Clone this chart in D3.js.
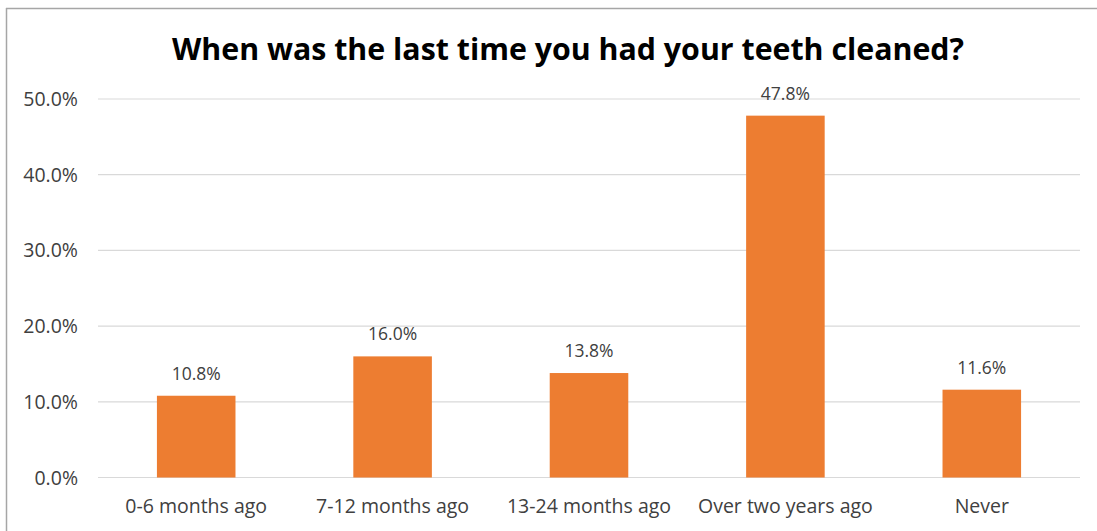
<!DOCTYPE html>
<html>
<head>
<meta charset="utf-8">
<script src="https://d3js.org/d3.v7.min.js"></script>
<style>
  body { margin: 0; background: #fff; }
  svg { display: block; font-family: "Open Sans", "Noto Sans", sans-serif; }
</style>
</head>
<body>
<svg width="1097" height="531"></svg>
<script>
// survey answers
const categories = ['0-6 months ago', '7-12 months ago', '13-24 months ago', 'Over two years ago', 'Never'];
const values = [10.8, 16.0, 13.8, 47.8, 11.6];
const yTicks = [0, 10, 20, 30, 40, 50];

const svg = d3.select('svg');
const plotLeft = 98, plotRight = 1080, plotTop = 99, plotBottom = 477.5;

// frame (only top and left edges show in the crop)
svg.append('line').attr('x1', 6).attr('x2', 1097).attr('y1', 8.5).attr('y2', 8.5)
  .style('stroke', '#a6a6a6').style('stroke-width', 1.5);
svg.append('line').attr('x1', 6.5).attr('x2', 6.5).attr('y1', 8).attr('y2', 531)
  .style('stroke', '#a6a6a6').style('stroke-width', 1.5);

svg.append('text')
  .attr('x', 568).attr('y', 60)
  .attr('text-anchor', 'middle')
  .attr('textLength', 792).attr('lengthAdjust', 'spacingAndGlyphs')
  .style('font-size', '30px').style('font-weight', 'bold').style('fill', '#000')
  .text('When was the last time you had your teeth cleaned?');

const x = d3.scaleBand().domain(categories).range([plotLeft, plotRight]).paddingInner(0.6).paddingOuter(0.3);
const y = d3.scaleLinear().domain([0, 50]).range([plotBottom, plotTop]);

// gridlines
svg.selectAll('line.grid')
  .data(yTicks)
  .enter()
  .append('line')
  .attr('class', 'grid')
  .attr('x1', plotLeft).attr('x2', plotRight)
  .attr('y1', d => y(d)).attr('y2', d => y(d))
  .style('stroke', '#d9d9d9').style('stroke-width', 1.2);

svg.selectAll('text.ytick')
  .data(yTicks)
  .enter()
  .append('text')
  .attr('class', 'ytick')
  .attr('x', 78).attr('y', d => y(d) + 7)
  .attr('text-anchor', 'end')
  .style('font-size', '19.5px').style('fill', '#404040')
  .text(d => d.toFixed(1) + '%');

svg.selectAll('rect')
  .data(values)
  .enter()
  .append('rect')
  .attr('x', (d, i) => x(categories[i]))
  .attr('y', d => y(d))
  .attr('width', x.bandwidth())
  .attr('height', d => y(0) - y(d))
  .style('fill', '#ed7d31');

svg.selectAll('text.val')
  .data(values)
  .enter()
  .append('text')
  .attr('class', 'val')
  .attr('x', (d, i) => x(categories[i]) + x.bandwidth() / 2)
  .attr('y', d => y(d) - 16)
  .attr('text-anchor', 'middle')
  .style('font-size', '17.5px').style('fill', '#404040')
  .text(d => d.toFixed(1) + '%');

svg.selectAll('text.xtick')
  .data(categories)
  .enter()
  .append('text')
  .attr('class', 'xtick')
  .attr('x', d => x(d) + x.bandwidth() / 2)
  .attr('y', 513)
  .attr('text-anchor', 'middle')
  .style('font-size', '19.5px').style('fill', '#404040')
  .text(d => d);
</script>
</body>
</html>
